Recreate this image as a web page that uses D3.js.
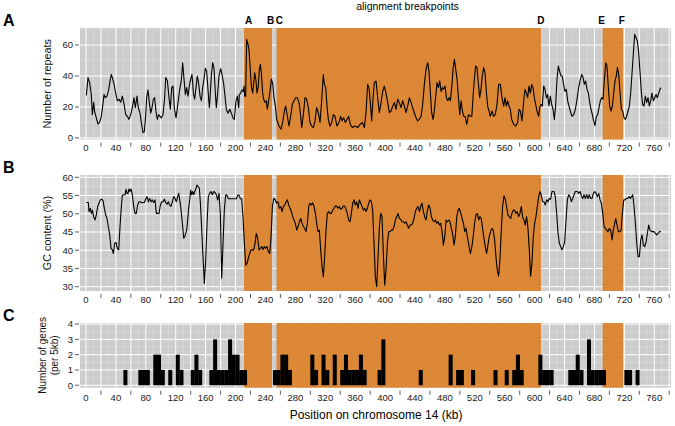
<!DOCTYPE html>
<html><head><meta charset="utf-8">
<script src="https://cdn.jsdelivr.net/npm/d3@7"></script>
<style>body{margin:0;background:#fff}svg{display:block}text{font-family:"Liberation Sans",Arial,sans-serif}</style>
</head><body><svg id="c" width="675" height="426"></svg>
<script>
// ---- data ----
const repeatKb=[0.5,2.7,4.9,7.1,8.5,10.3,11.6,13.8,16,18.3,20.5,22.7,24.1,25.9,28.1,30.3,32.5,33.9,35.2,37.4,39.7,41.9,44.1,46.4,48.6,50.8,53.1,55.3,57.5,59.7,62,64.2,66,68.2,70,72.2,74,76.2,78,79.8,81.1,82.9,84.7,86.5,88.3,90.1,91.8,93.6,95.4,97.2,99,100.8,103,105.2,106.6,108.8,111,112.8,114.6,116.4,118.1,120.4,122.2,123.9,125.7,127.5,129.3,131.1,132.9,134.6,136.4,138.2,140,141.8,143.6,145.3,147.1,148.9,150.7,152.5,154.3,156,157.8,159.6,161.4,163.2,165,166.3,167.6,169.4,171.2,173,174.3,176.1,177.9,180.1,182.3,184.1,185.9,187.7,189.9,192.2,194.4,196.6,198.4,200.6,202.4,204.2,205.1,206.9,208.6,210.4,211.3,212.2,213.5,214.9,216.7,218,219.8,221.1,222.9,224.3,225.6,227.4,228.7,230.5,231.8,233.2,234.5,236.3,237.6,239.4,241.2,242.5,244.3,246.1,247.9,249.7,251.4,253.2,255,258.1,260.8,263,265.3,267,269.3,271.5,273.7,276,278.2,280.4,282.7,284.9,286.7,288.5,290.7,292.9,295.1,297.4,299.6,301.8,304,306.3,308.5,310.7,313,315.2,317.4,318.8,320.6,322.3,324.1,326.3,328.6,330.8,333,335.7,338.4,340.6,342.4,344.6,346.9,349.1,351.3,353.5,356.2,359.8,363.4,366.5,369.6,372.3,374.5,376.7,378.5,380.3,382.1,383.9,385.6,387.9,390.1,392.3,394.6,396.8,399,401.2,403.5,405.7,407.9,410.2,412.4,414.6,416.9,419.1,421.3,423.5,425.8,428,430.2,432.5,434.7,436.9,439.1,441.4,443.6,445.8,448.1,450.3,452.5,454.8,457,458.8,460.6,462.3,464.1,465.9,467.7,469.5,471.3,473.1,474.9,476.6,478.4,480.2,482,483.8,485.6,487.4,489.1,490.9,492.7,494.5,496.3,498.1,499.9,501.6,503.4,505.2,507,509.2,511.5,513.7,516,518,519.4,521.1,522.9,524.7,526.5,528.3,530,531.8,533.6,535.4,537.2,539,540.7,543,545.2,547.4,549.7,551.9,554.1,556.4,558.6,560.4,562.2,564,565.7,567.5,569.3,572,574.7,577.3,579.1,580.9,583.1,585.4,587.2,588.9,590.7,592.5,594.3,596.1,597.9,599.6,601.4,603.2,605.4,606.8,608.5,610.3,612.1,613.9,615.7,617.4,619.2,621,622.8,624.6,626.4,628.1,629.9,631.7,633.5,635.3,637,638.8,640.6,642.4,644.2,646,647.7,650,652.2,654.5,656.7,658.9,661.2,663,664.8,666.5,668.3,670.1,671.9,673.7,675.4,677.2,679,680.8,682.6,684.4,686.1,687.9,689.7,691.5,693.3,695.1,696.8,698.6,700.4,702.2,704,705.8,707.5,709.3,710.7,712.4,714.2,716,717.8,719.6,721.4,723.1,724.9,726.7,728.5,730.3,732.1,733.8,735.6,737.4,739.2,741,742.7,744.5,746.3,748.1,749.9,751.7,753.4,755.2,757,758.8,760.6,762.3,764.1,766,767.7,769];
const repeatCount=[27.5,39,35.7,28,15,23,17,13,9,10,14,22,28,26,27,31,38,41,39,35,29,24,25,23,27,22,15,14,12,15,19.5,26,19.5,27,19.5,16,10,3.5,4,14,26,31,23,16,19.5,25,26,17,12,15,14,13,15,26,39,37,26,18.5,32.5,33.5,19.5,13,19.5,26,32.5,37,48.6,38,28,32.5,27,33.5,38,41,29,25,32.5,40,35,27,24,32.5,38,45,43,31,19.5,29,40,48.6,45,29,19.5,29,40,44.7,40,35,27,18.5,16,18.5,16,13,12,24,27,19.5,28,29,31,30,33.5,27,27,63.7,60.4,57,44,33.5,29,35.7,42,36.8,29,33.5,44,47.5,42,29,25,23,24,18.5,24,30,38,35,26,20.6,12,7.7,5.6,10,17.4,20.6,14,7.7,14,21.7,24,26,26,22.8,16.3,6.7,15,26,25,19.6,10,7.7,6.7,11,19.6,16.3,10,24,41,34.6,32.5,20.6,12,7.7,10,15,14,7.7,10,14,11,13,10,12,14,8.8,6.7,7.7,6.7,8.8,10,6.7,16.3,34.6,32.5,22.8,11,26,35.7,36.8,26,16.3,22.8,30,33.5,29,22.8,16.3,17.4,20.6,22.8,18.5,25,22.8,19.6,24,20.6,16.3,20.6,26,22.8,19.6,16.3,13,11,12,14,21.7,34.6,44.3,48.6,43,29,16.3,12,17.4,27,35.7,32.5,36.8,30,32.5,31.4,33.5,26,24,26,24,32.5,44.3,50.8,44.3,37.8,26,15,24,17.4,14,14,8.8,15,14,14,29,37.8,46.5,45.4,35.7,26,31.4,40,45.4,42,30,20.6,17.4,14,17.4,14,15,21.7,34.6,34.6,26,20.6,26,20.6,24,20.6,18.5,12,8.8,7.7,10,18.5,17.4,11,24,31.4,29,26,33.5,29,34.6,32.5,26,21.7,17.4,14,19.6,21.7,20.6,33.5,31.4,26,28,20.6,27,21.7,18.5,12,20.6,37.8,46.5,43,40,40,34.6,30,31.4,24,20.6,17.4,14,15,18.5,25,32.5,37.8,41,39,34.6,36.8,31.4,29,22.8,18.5,15,11,8,14,15,19.6,24,26,25,37.8,48.6,46.5,32.5,20.6,17.4,20.6,29,36.8,40,45.4,41,30,18.5,17.4,13,12,14,17.4,20.6,29,42,55,66.9,64.7,62.6,55,42,30,21.7,20.6,27,22.8,26,20.6,24,29,24,26,28,26,29,31.4,32.5];

const gcKb=[0.5,3.1,4,5.8,7.2,8.5,10.3,12.1,13.8,15.6,17.4,19.2,21,22.8,24.5,26.3,28.1,29.9,31.7,33.5,35.2,36.6,38.4,40.2,41.9,43.7,45.5,47.3,48.6,50.4,52.2,53.5,54.8,56.2,57.5,58.8,60.2,62,63.8,65.6,67.3,69.1,70.9,72.7,74.5,76.3,78,79.8,81.6,83.4,85.2,87,88.7,90.5,92.3,94.1,95.9,97.7,99.5,101.2,103,104.8,106.6,108.4,110.1,111.9,113.7,115.5,117.3,119.1,120.8,122.6,124,125.3,126.6,128,129.3,130.7,132,133.3,134.7,136,137.3,138.7,140,141.4,142.7,144,145.4,147.2,148.5,150.3,151.6,153,154.7,156.5,158.3,160.1,161.9,163.6,165.4,167.2,169,170.8,172.6,174.3,176.1,177.9,179.7,181.5,183.3,185,186.8,188.6,190.4,201.1,202.9,204.7,206.4,208.2,210,211.8,213.6,215.4,217.1,218.9,220.7,224.3,226.1,227.8,229.6,231.4,233.2,235,236.8,238.5,240.3,242.1,243.9,245.7,247.5,249.3,251,252.8,255,256.8,258.6,260.4,262.2,264,265.8,267.5,269.3,271.1,272.9,274.7,276.5,278.2,280,281.8,283.6,285.4,287.2,288.9,290.7,292.5,294.3,296.1,297.9,299.6,301.4,303.2,305,306.8,308.5,310.3,312.1,313.9,315.7,317.5,319.2,321,322.8,324.6,326.4,328.2,329.9,331.7,333.5,335.3,337.1,338.9,340.6,342.4,344.2,346,347.8,349.5,351.3,353.1,354.9,356.7,358.5,360.2,362,363.8,365.6,367.4,369.2,370.9,372.7,374.5,376.3,378.1,379.9,381.7,383.4,385.2,387,388.8,390.6,392.4,394.2,395.9,397.7,399.5,401.3,403.1,404.9,406.6,408.4,410.2,412,413.8,415.6,417.3,419.1,420.9,422.7,424.5,426.3,428,429.8,431.6,433.4,435.2,436.9,438.7,440.5,442.3,444.1,445.9,447.6,449.4,451.2,453,454.8,456.6,458.4,460.1,461.9,463.7,465.5,467.3,469.1,470.9,472.7,474.4,476.2,478,479.8,481.6,483.4,485.2,486.9,488.7,490.5,492.3,494.1,495.9,497.7,499.4,501.2,503,504.8,506.6,508.3,510.1,514,516.1,517.9,519.7,521.5,523.3,525.1,526.8,528.6,530.4,532.2,534,535.8,537.6,539.3,541.1,542.9,544.7,546.5,548.3,550,551.8,553.6,555.4,557.2,559,560.8,562.5,564.3,566.1,567.9,569.7,571.5,573.2,575,576.8,578.6,580.4,582.2,583.9,585.7,587.5,589.3,591.1,592.9,594.6,596.4,598.2,600,601.8,603.6,605.4,607.1,608.9,610.7,612.5,614.3,616.1,617.8,619.6,621.4,623.2,625.9,627.7,629.5,631.3,633.1,634.8,636.6,638.4,640.2,642,643.8,645.5,647.3,649.1,650.9,652.7,654.5,657.2,659,660.8,662.6,664.3,666.1,667.9,669.7,671.5,673.2,675,676.8,678.6,680.4,682.2,683.9,685.7,687.5,689.3,691.1,692.9,694.6,696.4,698.2,700,701.8,703.6,705.3,707.1,708.5,710.2,712,713.8,715.6,717.4,719.2,720.9,722.7,724.5,726.3,728.1,729.9,731.2,733,734.8,736.6,738.3,740.1,741.9,743.7,745.5,747.3,749.1,750.8,752.6,754.4,756.2,758,759.8,761.5,763.3,765.1,766.9,768.7];
const gcPct=[53.1,53.1,50.6,51.5,50.1,51,49.2,48.3,49.7,52,52.9,53.8,54,53.6,51.5,49.7,48.7,46.5,44.2,40.5,40.1,39.1,41.9,42.1,40.5,40.1,46.5,52,55,55.2,55.2,56.7,55.6,55.6,56.8,56.1,56.8,55.2,52,50.1,50.1,52.4,53.3,53.3,53,53.1,53.1,54,54.7,53.3,54.2,53.3,53.8,53.1,53.8,50.1,50.1,50.1,52.4,53.3,53.3,54,53.1,52.6,53.3,52.4,52,53.3,54.7,54.2,53.3,54.7,55.6,53.8,52,49.2,46.5,43.3,43.7,44.6,45.5,48.3,51.5,53.8,56.5,55.2,56.1,55.2,56.1,57,57.9,57.4,57,52.9,46,38.2,30.9,37.3,47.4,54.7,55.6,56.1,55.2,56.1,55.8,55.2,53.8,55.6,50.1,32.3,41.9,51,55.1,55.1,54.1,54.1,55.1,55.1,54.1,54.1,49.2,41.9,35.9,36.4,37.8,39.1,40.1,40.1,41.9,44.6,43.3,40.1,40.5,41,40.2,41,40.5,41,39.6,39.1,43.7,52,54.2,54,52.9,53.3,51.5,52,50.6,52,52.4,53.3,53.8,52.4,51.5,50.6,49.2,48.3,47.4,45.5,46.5,47.8,48.7,47.4,46.5,46,45.1,47.4,52,52.9,52.4,53,52,50.1,47.4,45.1,45.5,40.1,35.5,32.7,38.2,45.5,50.1,50.6,50.1,50.1,51,51.5,52.1,52.1,51.5,52,51.2,51.5,52.1,52.1,51.2,50.1,48.3,47.8,50.1,52.9,53.8,52.4,53.3,51.5,53.8,52.9,52,51,51.5,50.6,51.5,52.9,53.8,53.3,51,41.9,32.7,30,38.2,46.5,50.1,49.2,39.1,30.4,34.6,41.9,45.1,45.1,45.5,45.5,46.5,48.3,49.2,50.1,48.7,48.5,47.8,47.8,47.4,47.8,46.9,46,46.9,46.9,47.4,48.7,50.6,51.5,52,50.6,52,52.9,50.6,49.2,48.3,51,52.4,51.5,49.2,48.3,47.8,48.3,47.4,47.8,46.9,47.4,45.1,41.4,43.7,48.3,47.8,48.3,47.8,46,44.2,41.4,44.2,49.2,51,51.5,50.1,48.7,47.4,45.1,46,43.7,39.1,41,43.7,47.4,49.7,50.1,48.3,49.2,48.7,46,43.3,41,39.1,41.4,43.7,45.1,46,45.5,42.8,38.2,34.6,32.9,37.3,45.5,52,54.9,54,52,49.7,49.2,48.7,50.1,51,51,50.1,50.6,49.2,50.1,52,49.2,48.3,46.9,49.2,46,40.1,32.9,36.4,43.7,47.4,49.2,52,54.7,56.1,55.2,53.3,53.3,52.4,53.8,53.3,54.2,54,56.1,56.1,54.7,50.1,44.6,41.9,41,40.1,41,42.3,48.3,53.8,55.2,54.7,53.3,54.2,55.2,56.1,56.1,55.6,56.1,54.9,54.2,55.2,54.2,55.2,54.2,55.2,54.2,54.2,55.6,56.1,55.6,54.7,55.6,53.8,52.9,50.1,46.5,46,45.5,45.1,46,45.5,42.8,45.5,47.4,48.7,46.9,45.1,45.1,45.5,50.1,53.8,53.8,54.2,54.2,54.7,54.2,54.7,55.2,52,47.4,41.9,38.2,38.2,42.8,44.2,41.4,41,42.3,44.6,46.9,45.5,45.1,45.1,45.1,44.6,44.2,44.6,45.1,45.1];

const geneBinStart=[50,70,75,80,90,95,100,110,120,125,140,145,150,165,170,175,180,185,190,195,200,205,210,250,255,260,265,270,300,305,315,320,330,340,345,350,355,360,365,370,390,395,445,485,495,500,515,545,560,570,575,580,605,610,615,620,645,650,655,660,670,675,680,685,690,720,725,735];
const geneCount=[1,1,1,1,2,2,1,1,2,1,1,2,1,1,3,1,1,1,3,2,2,1,1,1,1,2,2,1,2,1,2,1,2,1,2,1,1,1,2,1,1,3,1,2,1,1,1,1,1,1,2,1,2,1,1,1,1,1,2,1,3,1,1,1,1,1,1,1];
const geneBinWidth=5;

const regionStart=[211.3,254.8,691];
const regionEnd=[248.8,608.5,718.2];
const breakpointNames=["A","B","C","D","E","F"];
const breakpointKb=[217.5,247,258.5,608.5,689.5,716.5];

const xTickKb=d3.range(0,781,20);
const xLabelKb=d3.range(0,761,40);
const repeatTicks=[0,20,40,60];
const gcTicks=[30,35,40,45,50,55,60];
const geneTicks=[0,1,2,3,4];

// ---- layout ----
const svg=d3.select("#c");
const L=80,R=671;
const x=d3.scaleLinear().domain([-8.02,782.4]).range([L,R]);
const panels=[
 {key:"A",top:28,bottom:139.5,y:d3.scaleLinear().domain([-1,71]).range([139.5,28]),ticks:repeatTicks,title:["Number of repeats"],labelY:151},
 {key:"B",top:175,bottom:291,y:d3.scaleLinear().domain([28.82,60.63]).range([291,175]),ticks:gcTicks,title:["GC content (%)"],labelY:303},
 {key:"C",top:323,bottom:387.7,y:d3.scaleLinear().domain([-0.16,4.07]).range([387.7,323]),ticks:geneTicks,title:["Number of genes","(per 5kb)"],labelY:401}
];
const orange="#DB8129";

panels.forEach((p,i)=>{
 const g=svg.append("g");
 g.append("rect").attr("x",L).attr("y",p.top).attr("width",R-L).attr("height",p.bottom-p.top).attr("fill","#CCCCCC");
 const minorX=d3.range(10,781,20);
 g.selectAll(".vm").data(minorX).join("line").attr("x1",d=>x(d)).attr("x2",d=>x(d)).attr("y1",p.top).attr("y2",p.bottom).attr("stroke","#E2E2E2").attr("stroke-width",0.5);
 const step=p.ticks[1]-p.ticks[0];
 const yd=p.y.domain();
 const minorY=d3.range(p.ticks[0]-step/2,yd[1],step).filter(v=>v>yd[0]&&v<yd[1]);
 g.selectAll(".hm").data(minorY).join("line").attr("x1",L).attr("x2",R).attr("y1",d=>p.y(d)).attr("y2",d=>p.y(d)).attr("stroke","#E2E2E2").attr("stroke-width",0.5);
 g.selectAll(".vM").data(xTickKb).join("line").attr("x1",d=>x(d)).attr("x2",d=>x(d)).attr("y1",p.top).attr("y2",p.bottom).attr("stroke","#fff").attr("stroke-width",1);
 g.selectAll(".hM").data(p.ticks.filter(v=>v>=yd[0]&&v<=yd[1])).join("line").attr("x1",L).attr("x2",R).attr("y1",d=>p.y(d)).attr("y2",d=>p.y(d)).attr("stroke","#fff").attr("stroke-width",1);
 g.selectAll(".reg").data(regionStart).join("rect").attr("x",(d)=>x(d)).attr("width",(d,j)=>x(regionEnd[j])-x(d)).attr("y",p.top).attr("height",p.bottom-p.top).attr("fill",orange).attr("opacity",0.93);
 g.selectAll(".yt").data(p.ticks).join("line").attr("x1",L-5).attr("x2",L-1).attr("y1",d=>p.y(d)).attr("y2",d=>p.y(d)).attr("stroke","#333").attr("stroke-width",0.8);
 g.selectAll(".yl").data(p.ticks).join("text").attr("x",L-7).attr("y",d=>p.y(d)+3.3).attr("text-anchor","end").attr("font-size",9.5).attr("fill","#1a1a1a").text(d=>d);
 g.selectAll(".xt").data(xTickKb.filter(v=>v%40!==0)).join("line").attr("x1",d=>x(d)).attr("x2",d=>x(d)).attr("y1",p.bottom+3).attr("y2",p.bottom+7).attr("stroke","#333").attr("stroke-width",0.8);
 g.selectAll(".xl").data(xLabelKb).join("text").attr("x",d=>x(d)).attr("y",p.labelY).attr("text-anchor","middle").attr("font-size",9.5).attr("fill","#1a1a1a").text(d=>d);
 const cy=(p.top+p.bottom)/2;
 const two=p.title.length>1;
 const t=g.append("text").attr("transform",`translate(${two?46:51},${cy}) rotate(-90)`).attr("text-anchor","middle").attr("font-size",two?10:10.8).attr("fill","#111");
 p.title.forEach((s,k)=>t.append("tspan").attr("x",0).attr("dy",k?11.5:0).text(s));
 svg.append("text").attr("x",3).attr("y",p.top-2).attr("font-size",16).attr("font-weight","bold").text(p.key);
 p.g=g;
});

const pA=panels[0];
pA.g.append("path").datum(repeatKb.map((k,i)=>[k,repeatCount[i]]))
 .attr("d",d3.line().x(d=>x(d[0])).y(d=>pA.y(d[1]))).attr("fill","none").attr("stroke","#000").attr("stroke-width",1.1).attr("stroke-linejoin","round");
const pB=panels[1];
pB.g.append("path").datum(gcKb.map((k,i)=>[k,gcPct[i]]))
 .attr("d",d3.line().x(d=>x(d[0])).y(d=>pB.y(d[1]))).attr("fill","none").attr("stroke","#000").attr("stroke-width",1.1).attr("stroke-linejoin","round");
const pC=panels[2];
pC.g.selectAll(".bar").data(geneBinStart).join("rect").attr("x",d=>x(d)).attr("width",d=>x(d+geneBinWidth)-x(d)+0.3)
 .attr("y",(d,i)=>pC.y(geneCount[i])).attr("height",(d,i)=>pC.y(0)-pC.y(geneCount[i])).attr("fill","#000");

svg.selectAll(".bp").data(breakpointNames).join("text").attr("x",(d,i)=>x(breakpointKb[i])).attr("y",24).attr("text-anchor","middle").attr("font-size",10).attr("font-weight","bold").text(d=>d);
svg.append("text").attr("x",407.5).attr("y",9.5).attr("text-anchor","middle").attr("font-size",10.5).text("alignment breakpoints");
svg.append("text").attr("x",376).attr("y",419).attr("text-anchor","middle").attr("font-size",12).text("Position on chromosome 14 (kb)");
</script></body></html>
